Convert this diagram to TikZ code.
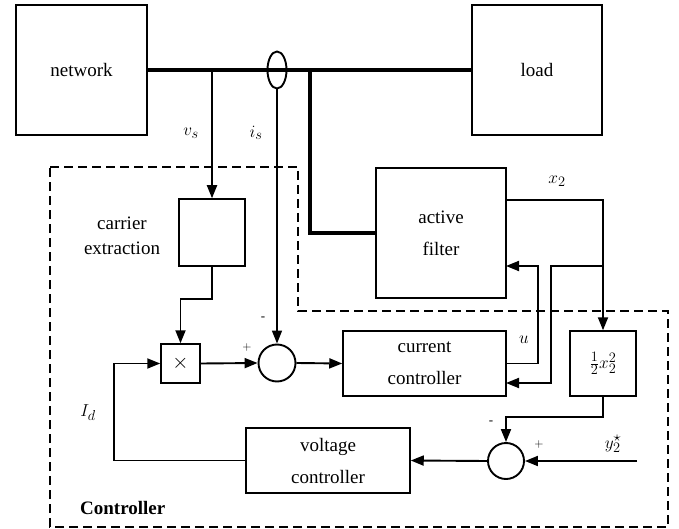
\documentclass[tikz,border=0pt]{standalone}
\usepackage{fontspec}
\setmainfont{Liberation Serif}
\newfontfamily\diafont{Liberation Serif}
\usetikzlibrary{arrows.meta,shapes.geometric,calc}
\begin{document}
\begin{tikzpicture}[x=1pt,y=-1pt,
  every node/.style={font=\diafont\fontsize{19}{22}\selectfont},
  blk/.style={draw,line width=1.5pt,rectangle,inner sep=0pt,align=center},
  sumc/.style={draw,line width=1.9pt,circle,inner sep=0pt,minimum size=37pt},
  sig/.style={line width=1.9pt,-{Triangle[length=13pt,width=10pt]}},
  bus/.style={line width=3.6pt},
  lbl/.style={inner sep=0pt},
  sgn/.style={inner sep=0pt,font=\diafont\fontsize{13}{14}\selectfont}]
\useasboundingbox (0,0) rectangle (679,529);
% blocks
\node[blk,minimum width=131pt,minimum height=130pt] (network) at (81.5,70) {network};
\node[blk,minimum width=130pt,minimum height=130pt] (load) at (537,70) {load};
\node[blk,minimum width=130pt,minimum height=130pt,text width=120pt,font=\diafont\fontsize{19}{32}\selectfont] (active) at (441,233) {active\\filter};
\node[blk,minimum width=66pt,minimum height=67pt] (carrier) at (212,232.5) {};
\node[lbl,align=center,font=\diafont\fontsize{19}{25}\selectfont] (carrierlbl) at (122,236) {carrier\\extraction};
\node[blk,minimum width=39pt,minimum height=39pt,font=\fontsize{22}{22}\selectfont] (mult) at (180.5,363.5) {$\times$};
\node[sumc] (sum1) at (277,363) {};
\node[blk,minimum width=163pt,minimum height=65pt,font=\diafont\fontsize{19}{32}\selectfont] (current) at (424.5,363.5) {current\\controller};
\node[blk,minimum width=66pt,minimum height=65pt] (sq) at (603,363.5) {$\frac{1}{2}x_2^2$};
\node[sumc,minimum size=36pt] (sum2) at (506,461) {};
\node[blk,minimum width=164pt,minimum height=65pt,font=\diafont\fontsize{19}{32}\selectfont] (voltage) at (328,460.5) {voltage\\controller};
% bus
\draw[bus] (network.east) -- (load.west);
\coordinate (tap) at (310,70);
\draw[bus] (tap) |- (active.west);
\node[draw,line width=1.9pt,ellipse,inner sep=0pt,minimum width=19pt,minimum height=37pt] (sensor) at (277,70) {};
% measurements
\coordinate (vsTap) at (212,70);
\draw[sig] (vsTap) -- (carrier.north);
\draw[sig,line width=1.4pt] (sensor.south) -- (sum1.north);
\node[lbl] (vs) at (191,133) {$v_s$};
\node[lbl] (is) at (256,133) {$i_s$};
% controller paths
\draw[sig] (carrier.south) -- ++(0,32) -| (mult.north);
\draw[sig] (mult.east) -- (sum1.west);
\draw[sig] (sum1.east) -- (current.west);
\coordinate (uIn) at (506,266);
\draw[sig] (current.east) -| ($(uIn)+(32,0)$) -- (uIn);
\coordinate (x2out) at (506,200);
\draw[sig] (x2out) -| (sq.north);
\coordinate (x2br) at (603,266);
\coordinate (curIn) at (506,383);
\draw[sig] (x2br) -- (551,266) |- (curIn);
\draw[sig] (sq.south) -- ++(0,20) -| (sum2.north);
\coordinate (yin) at (637,461);
\draw[sig] (yin) -- (sum2.east);
\draw[sig] (sum2.west) -- (voltage.east);
\draw[sig] (voltage.west) -- ++(-131,0) |- (mult.west);
% labels
\node[lbl] (x2) at (557,181) {$x_2$};
\node[lbl] (u) at (524,340) {$u$};
\node[lbl] (ystar) at (613,444) {$y_2^\star$};
\node[lbl] (Id) at (88,413) {$I_d$};
\node[sgn] (p1) at (247,347) {$+$};
\node[sgn] (m1) at (263,319) {-};
\node[sgn] (m2) at (491,423) {-};
\node[sgn] (p2) at (539,444) {$+$};
\node[lbl,anchor=west,font=\diafont\fontsize{19}{22}\selectfont\bfseries] (ctrl) at (80,508) {Controller};
% controller boundary
\draw[line width=1.7pt,dash pattern=on 9pt off 5pt] (50,167) -- (298,167) -- (298,311) -- (668,311) -- (668,527) -- (50,527) -- cycle;
\end{tikzpicture}
\end{document}
